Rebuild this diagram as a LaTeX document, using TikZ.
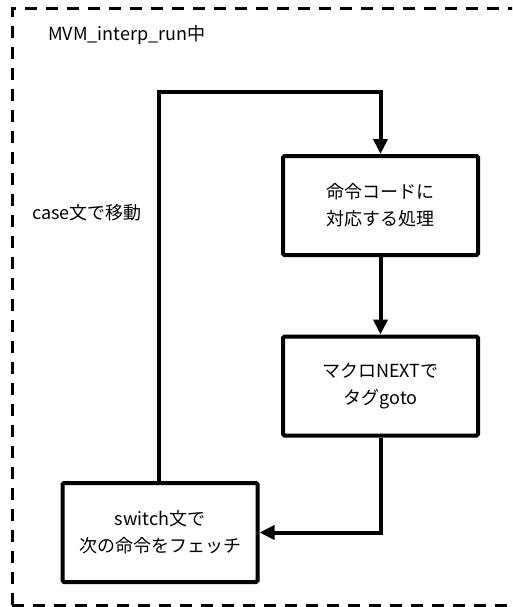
\documentclass[tikz,border=0pt]{standalone}
\usepackage{fontspec}
\setmainfont{Noto Sans CJK JP}
\usetikzlibrary{arrows.meta}
\tikzset{
  procbox/.style={draw, line width=4pt, rounded corners=1.5pt, minimum width=195pt, minimum height=99pt, align=center, inner sep=0pt, font=\fontsize{18}{27}\selectfont},
  flow/.style={line width=4pt, -{Triangle[length=15pt,width=14pt]}},
  lbl/.style={font=\fontsize{18}{22}\selectfont, inner sep=0pt, anchor=west}
}
\begin{document}
\begin{tikzpicture}[x=1pt,y=-1pt]
\useasboundingbox (0,0) rectangle (512,607);
\begin{scope}
\clip (0,0) rectangle (512,607);
\draw[line width=3pt, dash pattern=on 12pt off 9pt] (12,605) -- (12,9) -- (530,9);
\draw[line width=3pt, dash pattern=on 12pt off 9pt] (12,605) -- (530,605);
\end{scope}
\node[lbl] (title) at (48,35) {MVM\_interp\_run中};
\node[lbl] (caselbl) at (32,213) {case文で移動};
\node[procbox] (b1) at (380.5,205.5) {命令コードに\\対応する処理};
\node[procbox] (b2) at (380.5,386) {マクロNEXTで\\タグgoto};
\node[procbox] (b3) at (160,532.5) {switch文で\\次の命令をフェッチ};
\coordinate (c1) at (159,92);
\coordinate (c2) at (380.5,92);
\coordinate (c3) at (380.5,532.5);
\draw[flow] (b3.north -| c1) -- (c1) -- (c2) -- (b1.north);
\draw[flow] (b1.south) -- (b2.north);
\draw[flow] (b2.south) -- (c3) -- (b3.east);
\end{tikzpicture}
\end{document}
